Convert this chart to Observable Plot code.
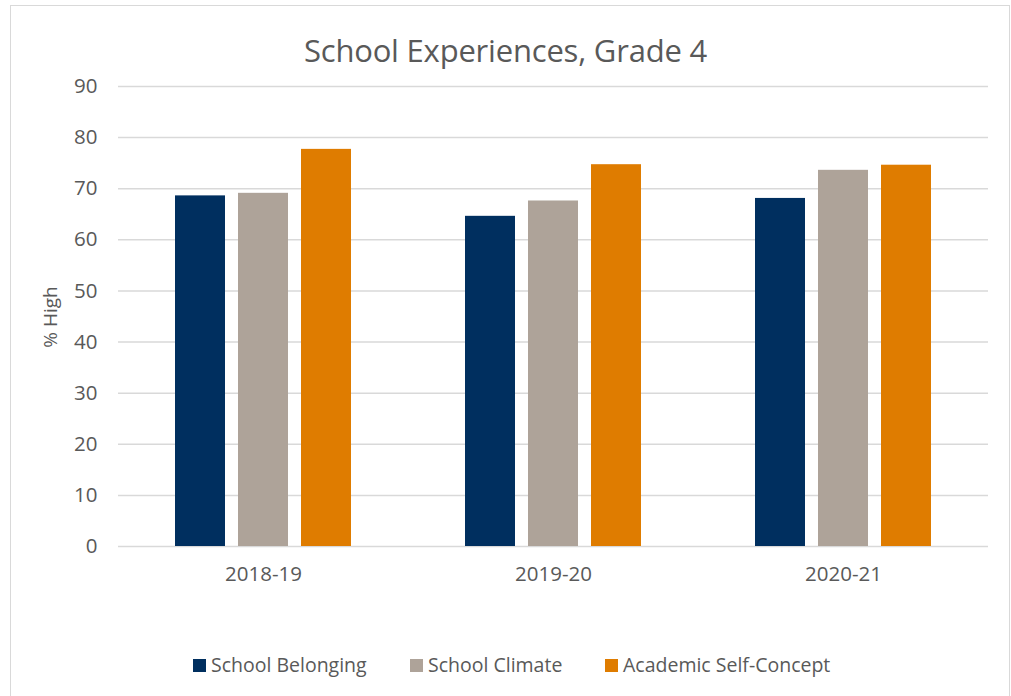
<!DOCTYPE html>
<html>
<head>
<meta charset="utf-8">
<script src="https://cdn.jsdelivr.net/npm/d3@7"></script>
<script src="https://cdn.jsdelivr.net/npm/@observablehq/plot@0.6"></script>
<style>
  html, body { margin: 0; padding: 0; background: #fff; }
  body { width: 1011px; height: 696px; overflow: hidden; position: relative; font-family: "Open Sans", sans-serif; color: #595959; }
  #frame { position: absolute; left: 10px; top: 5px; width: 1000px; height: 720px; border: 1.5px solid #d9d9d9; box-sizing: border-box; }
  #title { position: absolute; left: 0; top: 29px; width: 1011px; text-align: center; font-size: 31px; color: #595959; letter-spacing: -0.2px; line-height: 42px; }
  #chart { position: absolute; left: 0; top: 0; }
  #legend { position: absolute; top: 650px; left: 0; width: 1011px; height: 30px; }
  .item { position: absolute; top: 0; font-size: 19.5px; color: #595959; line-height: 30px; white-space: nowrap; }
  .sw { display: inline-block; width: 13px; height: 13px; margin-right: 5px; vertical-align: 0px; }
  #ylabel { position: absolute; left: 50px; top: 317px; transform: translate(-50%, -50%) rotate(-90deg); font-size: 19px; color: #595959; white-space: nowrap; }
</style>
</head>
<body>
<div id="frame"></div>
<div id="title">School Experiences, Grade 4</div>
<div id="chart"></div>
<div id="ylabel">% High</div>
<div id="legend"></div>
<script>
const years = ["2018-19", "2019-20", "2020-21"];
const seriesNames = ["School Belonging", "School Climate", "Academic Self-Concept"];
const schoolBelonging = [68.6, 64.6, 68.1];
const schoolClimate = [69.1, 67.6, 73.6];
const academicSelfConcept = [77.7, 74.7, 74.6];
const colors = ["#002f5f", "#aea399", "#df7c00"];
const yTicks = [0, 10, 20, 30, 40, 50, 60, 70, 80, 90];

const seriesValues = [schoolBelonging, schoolClimate, academicSelfConcept];
const data = [];
years.forEach((yr, i) => {
  seriesNames.forEach((s, j) => {
    data.push({year: yr, series: s, value: seriesValues[j][i]});
  });
});

const chart = Plot.plot({
  width: 1011,
  height: 600,
  marginTop: 86,
  marginBottom: 54,
  marginLeft: 118,
  marginRight: 23,
  style: {fontFamily: "Open Sans, sans-serif", color: "#595959", background: "transparent", overflow: "visible"},
  fx: {domain: years, padding: 0, label: null},
  x: {domain: seriesNames, paddingInner: 0.2, paddingOuter: 0.87, axis: null},
  y: {domain: [0, 90], ticks: yTicks, label: null},
  color: {domain: seriesNames, range: colors},
  marks: [
    Plot.ruleY(yTicks, {stroke: "#d9d9d9", strokeWidth: 1.5}),
    Plot.barY(data, {fx: "year", x: "series", y: "value", fill: "series"}),
    Plot.axisY({ticks: yTicks, tickSize: 0, tickPadding: 21, fontSize: 20.5, fill: "#595959", label: null, facetAnchor: "left"}),
    Plot.axisFx({anchor: "bottom", tickSize: 0, tickPadding: 20, fontSize: 20.5, fill: "#595959", label: null})
  ]
});
document.getElementById("chart").appendChild(chart);

const legend = document.getElementById("legend");
const lefts = [193, 410, 605];
seriesNames.forEach((s, j) => {
  const it = document.createElement("div");
  it.className = "item";
  it.style.left = lefts[j] + "px";
  const sw = document.createElement("span");
  sw.className = "sw";
  sw.style.background = colors[j];
  it.appendChild(sw);
  it.appendChild(document.createTextNode(s));
  legend.appendChild(it);
});
</script>
</body>
</html>
